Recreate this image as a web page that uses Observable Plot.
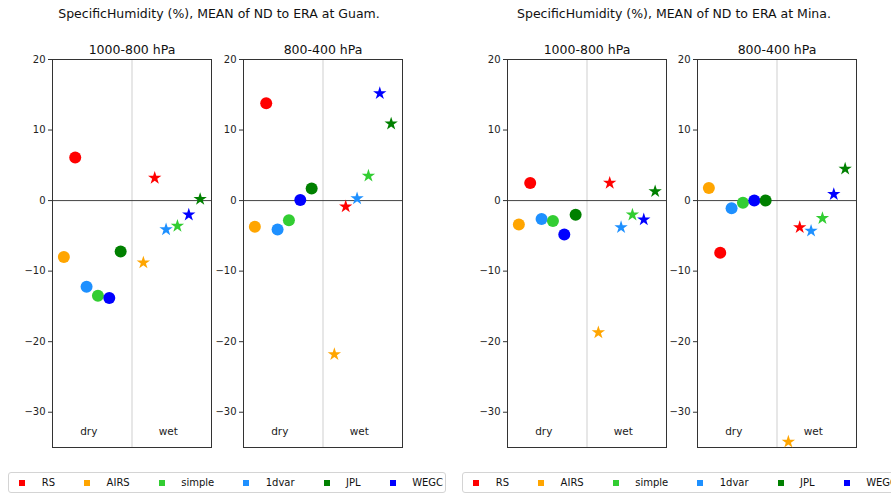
<!DOCTYPE html>
<html><head><meta charset="utf-8">
<script src="https://cdn.jsdelivr.net/npm/d3@7"></script>
<script src="https://cdn.jsdelivr.net/npm/@observablehq/plot@0.6"></script>
<style>
body{margin:0;background:#fff;font-family:"DejaVu Sans",sans-serif;}
#root{position:relative;width:891px;height:495px;overflow:hidden;background:#fff;}
.panel{position:absolute;}
.legend{position:absolute;top:472px;height:21px;border:1px solid #d4d4d4;border-radius:3px;display:flex;align-items:center;padding-left:10px;box-sizing:border-box;font-size:10px;color:#111;white-space:nowrap;background:#fff;}
.item{display:flex;align-items:center;margin-right:29px;}
.sw{width:6px;height:6px;margin-right:16.5px;}
</style></head><body><div id="root"></div>
<script>
const sources = ["RS","AIRS","simple","1dvar","JPL","WEGC"];
const colors = ["#ff0000","#ffa500","#32cd32","#1e90ff","#008000","#0000ff"];
const plotOrder = ["AIRS","RS","1dvar","simple","WEGC","JPL"];
const seasons = ["dry","wet"];
const stations = ["Guam","Mina"];
const layers = ["1000-800 hPa","800-400 hPa"];
const yTicks = [-30,-20,-10,0,10,20];

// values listed in `sources` order: RS, AIRS, simple, 1dvar, JPL, WEGC
const guamLowDry  = [6.1, -8.0, -13.5, -12.2, -7.2, -13.8];
const guamLowWet  = [3.2, -8.8, -3.6, -4.1, 0.2, -2.0];
const guamHighDry = [13.8, -3.7, -2.8, -4.1, 1.7, 0.1];
const guamHighWet = [-0.85, -21.8, 3.5, 0.3, 10.9, 15.2];
const minaLowDry  = [2.5, -3.4, -2.9, -2.6, -2.0, -4.8];
const minaLowWet  = [2.5, -18.7, -2.0, -3.8, 1.3, -2.7];
const minaHighDry = [-7.4, 1.8, -0.3, -1.1, 0.0, 0.0];
const minaHighWet = [-3.8, -34.2, -2.5, -4.3, 4.5, 0.9];

const root = document.getElementById("root");

function panel(dry, wet, layer) {
  const rows = [];
  [dry, wet].forEach((vals, s) => sources.forEach((src, i) =>
    rows.push({source: src, season: seasons[s], idx: plotOrder.indexOf(src) + 7 * s, value: vals[i]})));
  rows.sort((a, b) => a.idx - b.idx);
  const labels = seasons.map(s => ({label: s, idx: d3.mean(rows.filter(r => r.season === s), r => r.idx)}));
  return Plot.plot({
    width: 200, height: 425,
    marginLeft: 41, marginRight: 0, marginTop: 29, marginBottom: 8,
    style: {fontFamily: "DejaVu Sans", fontSize: "10px", color: "#222", background: "transparent", overflow: "visible"},
    x: {domain: [-1, 13], axis: null},
    y: {domain: [-35, 20]},
    color: {domain: sources, range: colors},
    marks: [
      Plot.ruleX([6], {stroke: "#cfcfcf", strokeWidth: 1}),
      Plot.ruleY([0], {stroke: "#444", strokeWidth: 1}),
      Plot.frame({stroke: "#333", strokeWidth: 1}),
      Plot.axisY(yTicks, {tickSize: 4, tickPadding: 3, fontSize: 10, label: null, stroke: "#333"}),
      Plot.text(labels, {x: "idx", text: "label", frameAnchor: "bottom", dy: -16, dx: -3.5, lineAnchor: "middle", fontSize: 10.5, fill: "#222"}),
      Plot.text([layer], {text: d => d, frameAnchor: "top", dy: -6, lineAnchor: "bottom", fontSize: 12.5, fill: "#111"}),
      Plot.dot(rows.filter(r => r.season === "dry"), {x: "idx", y: "value", fill: "source", r: 6, symbol: "circle"}),
      Plot.dot(rows.filter(r => r.season === "wet"), {x: "idx", y: "value", fill: "source", r: 4.2, symbol: "star"})
    ]
  });
}

const panels = [
  {left: 52.3, dry: guamLowDry, wet: guamLowWet, layer: layers[0]},
  {left: 243.3, dry: guamHighDry, wet: guamHighWet, layer: layers[1]},
  {left: 506.7, dry: minaLowDry, wet: minaLowWet, layer: layers[0]},
  {left: 697.3, dry: minaHighDry, wet: minaHighWet, layer: layers[1]}
];
panels.forEach(p => {
  const el = panel(p.dry, p.wet, p.layer);
  el.classList.add("panel");
  el.style.left = (p.left - 41) + "px";
  el.style.top = "30px";
  root.appendChild(el);
});

// figure titles
const ns = "http://www.w3.org/2000/svg";
const tsvg = document.createElementNS(ns, "svg");
tsvg.setAttribute("width", 891); tsvg.setAttribute("height", 30);
tsvg.style.position = "absolute"; tsvg.style.left = "0"; tsvg.style.top = "0";
[219, 674].forEach((cx, i) => {
  const t = document.createElementNS(ns, "text");
  t.setAttribute("x", cx); t.setAttribute("y", 18.3);
  t.setAttribute("text-anchor", "middle");
  t.setAttribute("font-family", "DejaVu Sans"); t.setAttribute("font-size", "12.5");
  t.setAttribute("fill", "#111");
  t.textContent = `SpecificHumidity (%), MEAN of ND to ERA at ${stations[i]}.`;
  tsvg.appendChild(t);
});
root.appendChild(tsvg);

// legends
[8.3, 462.3].forEach(left => {
  const lg = document.createElement("div");
  lg.className = "legend";
  lg.style.left = left + "px";
  lg.style.width = "438px";
  sources.forEach((s, i) => {
    const it = document.createElement("div"); it.className = "item";
    const sw = document.createElement("div"); sw.className = "sw"; sw.style.background = colors[i];
    const tx = document.createElement("span"); tx.textContent = s;
    it.appendChild(sw); it.appendChild(tx); lg.appendChild(it);
  });
  root.appendChild(lg);
});
</script></body></html>
